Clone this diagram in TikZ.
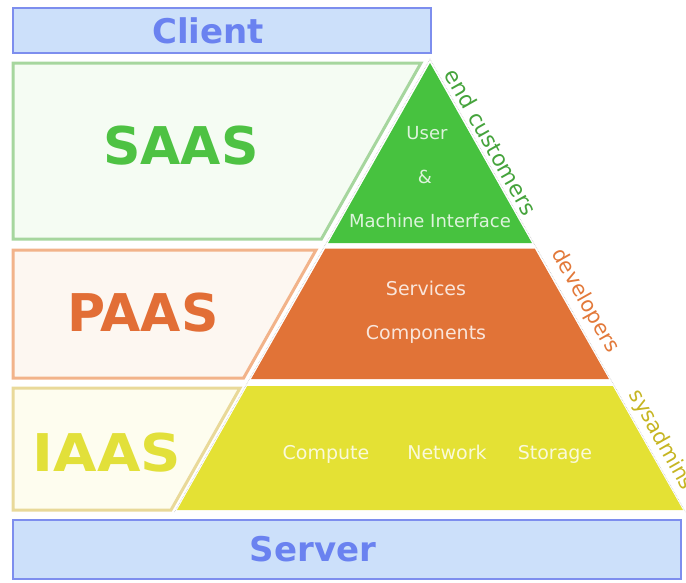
\documentclass[tikz,border=0pt]{standalone}
\usepackage{fontspec}
\setmainfont{DejaVu Sans}
\definecolor{clientfill}{HTML}{CCE0FA}
\definecolor{clientdraw}{HTML}{7D8EEE}
\definecolor{clienttext}{HTML}{6A82F0}
\definecolor{saasfill}{HTML}{F5FCF3}
\definecolor{saasdraw}{HTML}{A6D69E}
\definecolor{saastext}{HTML}{4EC243}
\definecolor{greentri}{HTML}{47C23F}
\definecolor{paasfill}{HTML}{FDF7F1}
\definecolor{paasdraw}{HTML}{F2B38A}
\definecolor{paastext}{HTML}{E26E36}
\definecolor{orangetri}{HTML}{E17337}
\definecolor{iaasfill}{HTML}{FEFDEF}
\definecolor{iaasdraw}{HTML}{E9D999}
\definecolor{iaastext}{HTML}{E2E03A}
\definecolor{yellowtri}{HTML}{E4E134}
\definecolor{endcust}{HTML}{45A33C}
\definecolor{devcol}{HTML}{E2793A}
\definecolor{syscol}{HTML}{C6B522}
\tikzset{
  endbox/.style={draw=clientdraw, fill=clientfill, line width=1.6pt},
  panel/.style={line width=3pt, line join=miter},
  bigtitle/.style={inner sep=0pt, font=\bfseries\fontsize{52}{52}\selectfont},
  endtitle/.style={inner sep=0pt, text=clienttext, font=\bfseries\fontsize{34}{34}\selectfont},
  inner/.style={inner sep=0pt, anchor=base, text=white, text opacity=0.82, font=\fontsize{18}{18}\selectfont},
  innerbig/.style={inner, font=\fontsize{19}{19}\selectfont},
  side/.style={inner sep=0pt, rotate=-60.5, font=\fontsize{21}{21}\selectfont},
}
\begin{document}
\begin{tikzpicture}[x=1pt,y=-1pt]
\useasboundingbox (0,0) rectangle (686,582);
% client / server
\draw[endbox] (13,8) rectangle (431,53);
\node[endtitle] (client) at (208,31) {Client};
\draw[endbox] (13,520) rectangle (681,579);
\node[endtitle] (server) at (313,549) {Server};
% left panels
\draw[panel, draw=saasdraw, fill=saasfill] (13,63) -- (421,63) -- (321.4,239) -- (13,239) -- cycle;
\draw[panel, draw=paasdraw, fill=paasfill] (13,250) -- (316,250) -- (243.6,378) -- (13,378) -- cycle;
\draw[panel, draw=iaasdraw, fill=iaasfill] (13,388) -- (240,388) -- (171,510) -- (13,510) -- cycle;
\node[bigtitle, text=saastext] (saas) at (181,146) {SAAS};
\node[bigtitle, text=paastext] (paas) at (143,313) {PAAS};
\node[bigtitle, text=iaastext, xscale=1.08] (iaas) at (107,453) {IAAS};
% pyramid outline
\draw[gray!45, line width=0.6pt, densely dotted] (174.5,512) -- (430,59) -- (685.5,512);
% pyramid layers
\fill[greentri] (430,63) -- (531.9,243) -- (328.1,243) -- cycle;
\fill[orangetri] (325.3,248.5) -- (534.7,248.5) -- (608.9,379) -- (251.1,379) -- cycle;
\fill[yellowtri] (247.2,386) -- (612.8,386) -- (683,510) -- (177,510) -- cycle;
% inner texts
\node[inner] (user) at (427,139) {User};
\node[inner] (amp) at (425,183) {\&};
\node[inner] (mi) at (430,227) {Machine Interface};
\node[innerbig] (serv) at (426,295) {Services};
\node[innerbig] (comp) at (426,339) {Components};
\node[innerbig] (cpu) at (326,459) {Compute};
\node[innerbig] (net) at (447,459) {Network};
\node[innerbig] (sto) at (555,459) {Storage};
% side labels
\node[side, text=endcust, font=\fontsize{22}{22}\selectfont] (ec) at (491,142) {end customers};
\node[side, text=devcol] (dev) at (585,301) {developers};
\node[side, text=syscol] (sys) at (661,440) {sysadmins};
\end{tikzpicture}
\end{document}
